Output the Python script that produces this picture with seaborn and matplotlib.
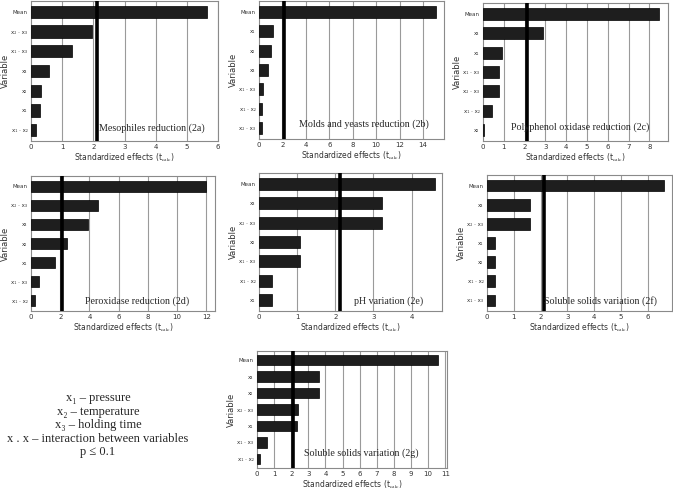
import pandas as pd

import matplotlib
matplotlib.use('AGG')
import matplotlib.pyplot as plt
import seaborn as sns
sns.set_theme(style="white", rc={
        "axes.edgecolor": "#8a8a8a",
        "axes.linewidth": 0.8,
        "xtick.color": "#333333",
        "ytick.color": "#333333",
        "mathtext.fontset": "stix"})
plt.rcParams['font.family'] = ['DejaVu Sans']

# critical t value (p <= 0.1)
T_CRIT = 2.13

# panel 2a - mesophiles reduction
labels_a = ["Mean", "x₂ · x₃", "x₁ · x₃", "x₃", "x₂", "x₁", "x₁ · x₂"]
values_a = [5.65, 1.95, 1.3, 0.58, 0.33, 0.3, 0.17]

# panel 2b - molds and yeasts reduction
labels_b = ["Mean", "x₁", "x₂", "x₃", "x₁ · x₃", "x₁ · x₂", "x₂ · x₃"]
values_b = [15.1, 1.2, 1.05, 0.75, 0.35, 0.25, 0.25]

# panel 2c - polyphenol oxidase reduction
labels_c = ["Mean", "x₃", "x₁", "x₁ · x₃", "x₂ · x₃", "x₁ · x₂", "x₂"]
values_c = [8.45, 2.9, 0.9, 0.78, 0.77, 0.45, 0.03]

# panel 2d - peroxidase reduction
labels_d = ["Mean", "x₂ · x₃", "x₃", "x₂", "x₁", "x₁ · x₃", "x₁ · x₂"]
values_d = [12.0, 4.6, 3.9, 2.45, 1.65, 0.52, 0.25]

# panel 2e - pH variation
labels_e = ["Mean", "x₃", "x₂ · x₃", "x₂", "x₁ · x₃", "x₁ · x₂", "x₁"]
values_e = [4.62, 3.23, 3.23, 1.07, 1.07, 0.35, 0.35]

# panel 2f - soluble solids variation
labels_f = ["Mean", "x₃", "x₂ · x₃", "x₁", "x₂", "x₁ · x₂", "x₁ · x₃"]
values_f = [6.6, 1.6, 1.6, 0.31, 0.31, 0.31, 0.31]

# panel 2g - soluble solids variation
labels_g = ["Mean", "x₃", "x₂", "x₂ · x₃", "x₁", "x₁ · x₃", "x₁ · x₂"]
values_g = [10.6, 3.6, 3.6, 2.4, 2.35, 0.6, 0.2]

titles = ["Mesophiles reduction (2a)", "Molds and yeasts reduction (2b)",
          "Polyphenol oxidase reduction (2c)", "Peroxidase reduction (2d)",
          "pH variation (2e)", "Soluble solids variation (2f)",
          "Soluble solids variation (2g)"]

legend_lines = ["x₁ – pressure", "x₂ – temperature", "x₃ – holding time",
                "x . x – interaction between variables", "p ≤ 0.1"]

W, H = 673, 490


def effects_panel(ax, labels, values, title, xmax, step, title_x, title_y):
    """Pareto-like horizontal bar chart of standardized effects"""
    df = pd.DataFrame({'Variable': labels, 'effect': values})
    sns.barplot(data=df, x='effect', y='Variable', color='#1e1e1e',
                edgecolor='black', linewidth=0.5, width=0.62, ax=ax,
                saturation=1, zorder=3)
    ax.set_xlim(0, xmax)
    ax.set_ylim(6.55, -0.55)
    ticks = list(range(0, int(xmax) + 1, step))
    ax.set_xticks(ticks)
    for t in ticks[1:]:
        ax.axvline(t, color='#9a9a9a', lw=0.8, zorder=1)
    ax.axvline(T_CRIT, color='black', lw=2.6, zorder=4)
    ax.tick_params(axis='x', labelsize=5, length=0, pad=2.5)
    ax.tick_params(axis='y', labelsize=4, length=0, pad=2.5)
    ax.set_xlabel(r"Standardized effects (t$_{\mathrm{calc}}$)", fontsize=5.5,
                  color='#333333', labelpad=1)
    ax.set_ylabel("Variable", fontsize=6, color='#333333')
    width_px = ax.get_position().width * W
    ax.yaxis.set_label_coords(-21 / width_px, 0.5)
    ax.text(title_x, title_y, title, transform=ax.transAxes, ha='right',
            va='center', fontsize=7.2, family='Liberation Serif', zorder=5)


fig = plt.figure(figsize=(6.73, 4.9), dpi=100)

def add_axes(x0, y0, x1, y1):
    return fig.add_axes([x0 / W, 1 - y1 / H, (x1 - x0) / W, (y1 - y0) / H])

ax_a = add_axes(31, 1, 218, 141)
ax_b = add_axes(259, 1, 444, 139)
ax_c = add_axes(483, 3, 668, 141)
ax_d = add_axes(31, 176, 215, 311)
ax_e = add_axes(259, 173, 442, 311)
ax_f = add_axes(487, 175, 672, 311)
ax_g = add_axes(257, 351, 447, 468)

effects_panel(ax_a, labels_a, values_a, titles[0], 6, 1, 0.93, 0.09)
effects_panel(ax_b, labels_b, values_b, titles[1], 15.8, 2, 0.92, 0.11)
effects_panel(ax_c, labels_c, values_c, titles[2], 8.9, 1, 0.90, 0.10)
effects_panel(ax_d, labels_d, values_d, titles[3], 12.6, 2, 0.86, 0.07)
effects_panel(ax_e, labels_e, values_e, titles[4], 4.8, 1, 0.90, 0.07)
effects_panel(ax_f, labels_f, values_f, titles[5], 6.9, 1, 0.92, 0.07)
effects_panel(ax_g, labels_g, values_g, titles[6], 11.1, 1, 0.85, 0.13)

for i, line in enumerate(legend_lines):
    fig.text(98 / W, 1 - (398 + i * 13.6) / H, line, ha='center', va='center',
             fontsize=9, family=['Liberation Serif', 'DejaVu Serif'])

fig.savefig("out.png", dpi=100)
